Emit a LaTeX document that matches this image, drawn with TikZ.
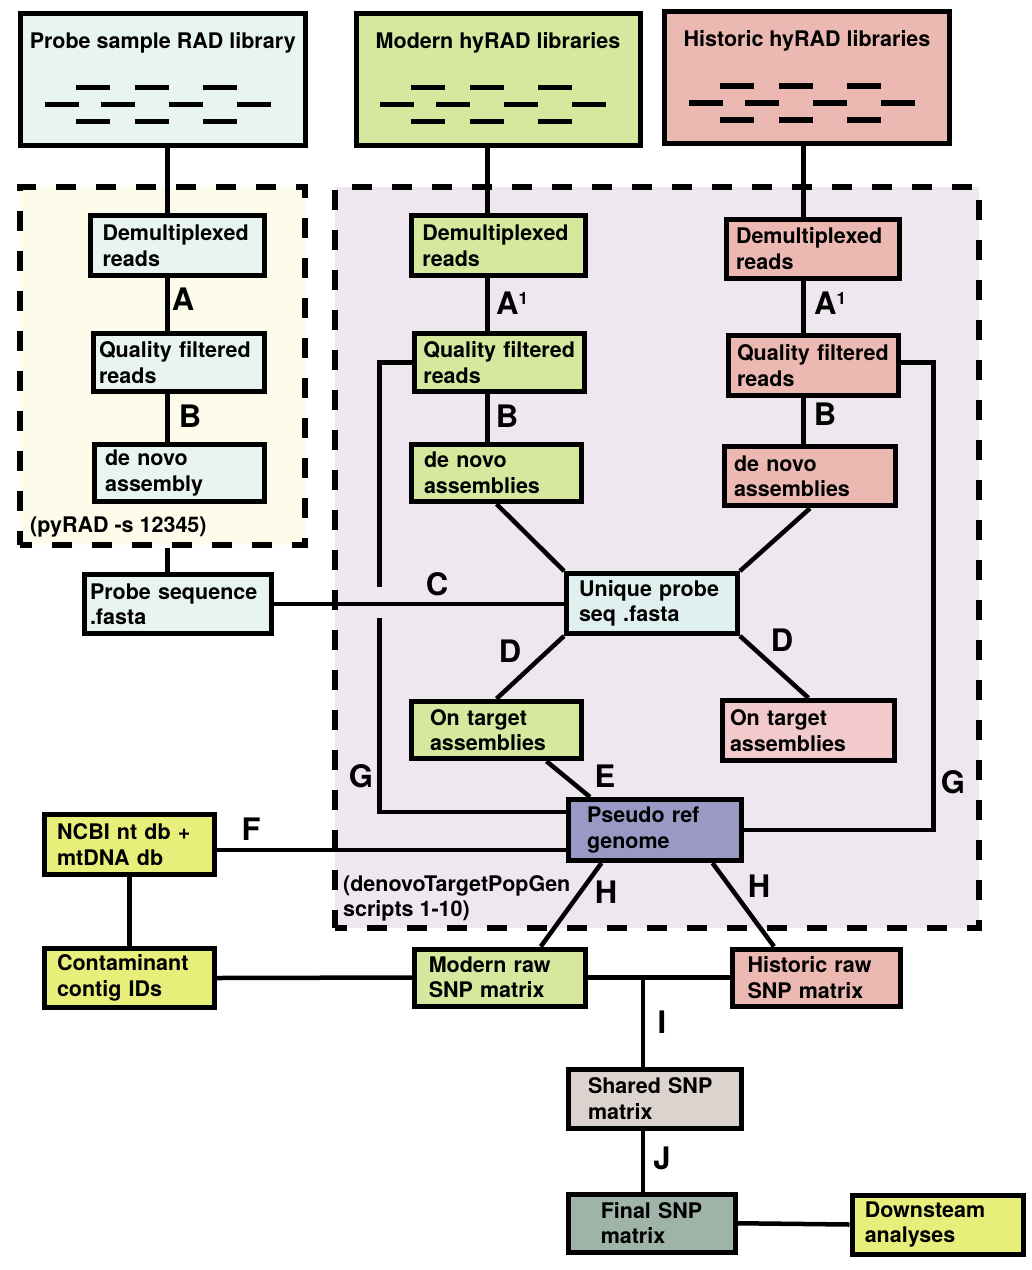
\documentclass[tikz,border=0pt]{standalone}
\usepackage{fontspec}
\setmainfont{TeX Gyre Heros}
\usepackage{tikz}
\usepackage{xcolor}
\definecolor{ProbeFill}{HTML}{E8F4F2}
\definecolor{UniqueFill}{HTML}{DFF0EE}
\definecolor{ModernFill}{HTML}{D5E89E}
\definecolor{HistoricFill}{HTML}{ECB8B2}
\definecolor{TargetFill}{HTML}{F3CACC}
\definecolor{PseudoFill}{HTML}{9A99C6}
\definecolor{DbFill}{HTML}{E7EF7A}
\definecolor{SharedFill}{HTML}{DCD3CF}
\definecolor{FinalFill}{HTML}{9EB4A8}
\definecolor{ZoneYellow}{HTML}{FDFBEA}
\definecolor{ZonePurple}{HTML}{EFE7F0}
\newcommand{\boxfont}{\fontsize{21.5}{25.5}\selectfont\bfseries}
\newcommand{\stepfont}{\fontsize{31}{31}\selectfont\bfseries}
\tikzset{
  libbox/.style={draw, line width=5pt, fill=#1, minimum height=132pt, inner sep=0pt},
  libtitle/.style={anchor=north, yshift=-21pt, font=\boxfont, inner sep=0pt},
  stepbox/.style={draw, line width=5pt, fill=#1, align=left, text width=150pt,
    minimum width=171pt, minimum height=59pt, inner sep=0pt, font=\boxfont},
  zone/.style={draw, line width=5.5pt, dash pattern=on 20pt off 20pt, dash phase=8pt,
    fill=#1, inner sep=0pt},
  note/.style={font=\boxfont, inner sep=0pt},
  steplabel/.style={font=\stepfont, inner sep=0pt},
  link/.style={line width=4.5pt},
  readline/.style={line width=5.5pt},
  reads/.pic={
    \draw[readline] (-87,-17) -- (-53,-17) (-28,-17) -- (6,-17) (40,-17) -- (74,-17)
      (-118,0) -- (-84,0) (-62,0) -- (-28,0) (6,0) -- (40,0) (74,0) -- (108,0)
      (-87,17) -- (-53,17) (-28,17) -- (6,17) (40,17) -- (74,17);
  },
}

\begin{document}
\begin{tikzpicture}[x=1pt, y=-1pt]
  \useasboundingbox (0,0) rectangle (1032,1270);

  % dashed work areas
  \node[zone=ZoneYellow, minimum width=285pt, minimum height=358pt] (pyradZone) at (162.5,366) {};
  \node[zone=ZonePurple, minimum width=644pt, minimum height=741pt] (targetZone) at (657,557.5) {};
  \node[note, anchor=base west] (pyradNote) at (30,532) {(pyRAD -s 12345)};
  \node[note, anchor=north west, align=left] (targetNote) at (343,875) {(denovoTargetPopGen\\scripts 1-10)};

  % libraries
  \node[libbox=ProbeFill, minimum width=284.5pt, label={[libtitle]north:Probe sample RAD library}] (probeLib) at (162.75,79.5) {};
  \node[libbox=ModernFill, minimum width=284pt, label={[libtitle]north:Modern hyRAD libraries}] (modernLib) at (498,79.5) {};
  \node[libbox=HistoricFill, minimum width=285pt, label={[libtitle]north:Historic hyRAD libraries}] (historicLib) at (807,77.75) {};
  \pic at ([yshift=-25pt]probeLib.center) {reads};
  \pic at ([yshift=-25pt]modernLib.center) {reads};
  \pic at ([yshift=-25pt]historicLib.center) {reads};

  % read processing
  \node[stepbox=ProbeFill, minimum width=174pt, minimum height=60pt, text width=149pt] (demultP) at (177,245.5) {Demultiplexed\\reads};
  \node[stepbox=ModernFill, minimum width=174pt, minimum height=60pt, text width=152pt] (demultM) at (498.4,245.5) {Demultiplexed\\reads};
  \node[stepbox=HistoricFill, minimum width=173pt, minimum height=58.5pt, text width=153pt] (demultH) at (812.5,248.75) {Demultiplexed\\reads};
  \node[stepbox=ProbeFill, minimum height=58pt, text width=160pt] (qfP) at (179,362.5) {Quality filtered\\reads};
  \node[stepbox=ModernFill, minimum width=169.5pt, minimum height=58pt, text width=152pt] (qfM) at (499.3,362.5) {Quality filtered\\reads};
  \node[stepbox=HistoricFill, minimum width=170pt, minimum height=60pt, text width=152pt] (qfH) at (813,365.5) {Quality filtered\\reads};
  \node[stepbox=ProbeFill, minimum width=170pt, minimum height=57pt, text width=149pt] (dnP) at (179.6,473) {de novo\\assembly};
  \node[stepbox=ModernFill, minimum width=170pt, minimum height=57pt, text width=145pt] (dnM) at (496.5,473) {de novo\\assemblies};
  \node[stepbox=HistoricFill, minimum width=170.5pt, text width=152pt] (dnH) at (810,476.3) {de novo\\assemblies};

  % probes and targets
  \node[stepbox=ProbeFill, minimum width=187pt, text width=176pt] (probeSeq) at (178,604) {Probe sequence\\.fasta};
  \node[stepbox=UniqueFill, minimum height=60pt, text width=146pt] (unique) at (652,603.5) {Unique probe\\seq .fasta};
  \node[stepbox=ModernFill, minimum width=170pt, minimum height=57.5pt, text width=133pt] (otM) at (496.5,730) {On target\\assemblies};
  \node[stepbox=TargetFill, minimum width=172pt, minimum height=60pt, text width=157pt] (otH) at (808.5,730.5) {On target\\assemblies};
  \node[stepbox=PseudoFill, minimum width=173pt, minimum height=61pt, text width=136pt] (pseudo) at (655,830) {Pseudo ref\\genome};

  % SNP calling
  \node[stepbox=DbFill, minimum width=170pt, minimum height=60pt, text width=145pt] (ncbi) at (129.5,844.5) {NCBI nt db +\\mtDNA db};
  \node[stepbox=DbFill, minimum width=170pt, text width=145pt] (contam) at (129.5,978) {Contaminant\\contig IDs};
  \node[stepbox=ModernFill, minimum width=170.5pt, minimum height=57pt, text width=142pt] (modernRaw) at (499.75,977.5) {Modern raw\\SNP matrix};
  \node[stepbox=HistoricFill, minimum width=168pt, minimum height=57pt, text width=137pt] (historicRaw) at (816,977.5) {Historic raw\\SNP matrix};
  \node[stepbox=SharedFill, minimum width=173pt, minimum height=59.5pt, text width=133pt] (shared) at (654.5,1098.75) {Shared SNP\\matrix};
  \node[stepbox=FinalFill, minimum width=167.5pt, minimum height=58.5pt, text width=102pt] (final) at (651.75,1223.25) {Final SNP\\matrix};
  \node[stepbox=DbFill, minimum width=171.5pt, text width=146pt] (downs) at (937.75,1224.5) {Downsteam\\analyses};

  % columns of the three read pipelines
  \coordinate (pcol) at (167.5,0);
  \coordinate (mcol) at (487.5,0);
  \coordinate (hcol) at (803.5,0);
  \coordinate (icol) at (643,0);
  \coordinate (gJumpA) at (379.5,587);
  \coordinate (gJumpB) at (379.5,618);
  \coordinate (gRight) at (933.5,600);

  \draw[link] (probeLib.south -| pcol) -- (demultP.north -| pcol);
  \draw[link] (demultP.south -| pcol) -- (qfP.north -| pcol);
  \draw[link] (qfP.south -| pcol) -- (dnP.north -| pcol);
  \draw[link] (pyradZone.south -| pcol) -- (probeSeq.north -| pcol);
  \draw[link] (modernLib.south -| mcol) -- (demultM.north -| mcol);
  \draw[link] (demultM.south -| mcol) -- (qfM.north -| mcol);
  \draw[link] (qfM.south -| mcol) -- (dnM.north -| mcol);
  \draw[link] (historicLib.south -| hcol) -- (demultH.north -| hcol);
  \draw[link] (demultH.south -| hcol) -- (qfH.north -| hcol);
  \draw[link] (qfH.south -| hcol) -- (dnH.north -| hcol);

  \draw[link] (probeSeq.east) -- (probeSeq.east -| unique.west);
  \draw[link] (dnM.south) -- (unique.north west);
  \draw[link] (dnH.south) -- (unique.north east);
  \draw[link] (unique.south west) -- (otM.north);
  \draw[link] (unique.south east) -- (otH.north);
  \draw[link] ([xshift=50pt]otM.south) -- ([xshift=-65pt]pseudo.north);
  \draw[link] (qfM.west) -| (gJumpA);
  \draw[link] (gJumpB) |- ([yshift=18pt]pseudo.west);
  \draw[link] (pseudo.east) -| (gRight) |- ([yshift=3pt]qfH.east);
  \draw[link] ([yshift=-20pt]pseudo.west -| ncbi.east) -- ([yshift=-20pt]pseudo.west);
  \draw[link] (ncbi.south) -- (contam.north);
  \draw[link] (contam.east) -- (modernRaw.west);
  \draw[link] (modernRaw.east) -- (historicRaw.west);
  \draw[link] ([xshift=-53.5pt]pseudo.south) -- ([xshift=41pt]modernRaw.north);
  \draw[link] ([xshift=57.5pt]pseudo.south) -- ([xshift=-42pt]historicRaw.north);
  \draw[link] (modernRaw.east -| icol) -- (shared.north -| icol);
  \draw[link] (shared.south -| icol) -- (final.north -| icol);
  \draw[link] (final.east) -- (downs.west);

  % step letters
  \node[steplabel] (labA) at (183,299) {A};
  \node[steplabel, anchor=base west] (labAm) at (496,314) {A\raisebox{10pt}{\fontsize{17}{17}\selectfont 1}};
  \node[steplabel, anchor=base west] (labAh) at (814,314) {A\raisebox{10pt}{\fontsize{17}{17}\selectfont 1}};
  \node[steplabel] (labBp) at (190,416.5) {B};
  \node[steplabel] (labBm) at (507,416.5) {B};
  \node[steplabel] (labBh) at (825,414) {B};
  \node[steplabel] (labC) at (437,584) {C};
  \node[steplabel] (labDm) at (510,651) {D};
  \node[steplabel] (labDh) at (782,640) {D};
  \node[steplabel] (labE) at (605,776) {E};
  \node[steplabel] (labGl) at (361,776) {G};
  \node[steplabel] (labGr) at (953,782) {G};
  \node[steplabel] (labF) at (251,829) {F};
  \node[steplabel] (labHm) at (606,892) {H};
  \node[steplabel] (labHh) at (759,886) {H};
  \node[steplabel] (labI) at (662,1022) {I};
  \node[steplabel] (labJ) at (662,1158) {J};
\end{tikzpicture}
\end{document}
